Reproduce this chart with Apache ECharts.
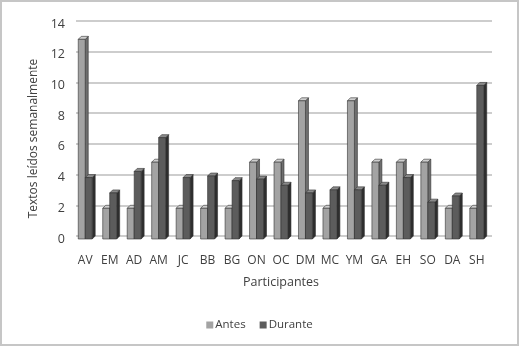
<!DOCTYPE html>
<html>
<head>
<meta charset="utf-8">
<script src="https://cdn.jsdelivr.net/npm/echarts@6/dist/echarts.min.js"></script>
<style>
html,body{margin:0;padding:0;background:#fff;}
#c{width:519px;height:346px;box-sizing:border-box;border:2px solid #c6c6c6;background:#fff;}
</style>
</head>
<body>
<div id="c"></div>
<script>
const categories = ['AV','EM','AD','AM','JC','BB','BG','ON','OC','DM','MC','YM','GA','EH','SO','DA','SH'];
const antes   = [13, 2, 2, 5, 2, 2, 2, 5, 5, 9, 2, 9, 5, 5, 5, 2, 2];
const durante = [4, 3, 4.4, 6.6, 4, 4.1, 3.8, 3.9, 3.5, 3, 3.2, 3.2, 3.5, 4, 2.4, 2.8, 10];
const yTicks = [0, 2, 4, 6, 8, 10, 12, 14];
const seriesNames = ['Antes', 'Durante'];

const palettes = [
  {front:'#a3a3a3', side:'#6e6e6e', top:'#cfcfcf'},
  {front:'#5c5c5c', side:'#2e2e2e', top:'#8a8a8a'}
];
const FONT = 'Open Sans';
const TXT = '#404040';

function makeRender(idx){
  return function(params, api){
    const cat = api.value(0), v = api.value(1);
    const top = api.coord([cat, v]);
    const base = api.coord([cat, 0]);
    const bw = api.size([1, 0])[0] * 0.285;
    const d = 3;
    const x0 = idx === 0 ? top[0] - bw : top[0];
    const p = palettes[idx];
    const stroke = {stroke:'#333', lineWidth:0.6};
    return {
      type:'group',
      children:[
        {type:'polygon', shape:{points:[[x0+bw, top[1]],[x0+bw+d, top[1]-d],[x0+bw+d, base[1]-d],[x0+bw, base[1]]]},
          style:Object.assign({fill:p.side}, stroke)},
        {type:'polygon', shape:{points:[[x0, top[1]],[x0+d, top[1]-d],[x0+bw+d, top[1]-d],[x0+bw, top[1]]]},
          style:Object.assign({fill:p.top}, stroke)},
        {type:'rect', shape:{x:x0, y:top[1], width:bw, height:base[1]-top[1]},
          style:Object.assign({fill:p.front}, stroke)}
      ]
    };
  };
}

const chart = echarts.init(document.getElementById('c'), null, {renderer:'canvas'});
chart.setOption({
  animation:false,
  backgroundColor:'#fff',
  grid:[
    {left:74, right:25, top:19, bottom:108},
    {left:71, right:28, top:22, bottom:105}
  ],
  xAxis:[
    {gridIndex:0, type:'category', data:categories, show:false},
    {gridIndex:1, type:'category', data:categories,
      axisLine:{show:false}, axisTick:{show:false},
      axisLabel:{color:TXT, fontFamily:FONT, fontSize:12, margin:16, interval:0},
      name:'Participantes', nameLocation:'middle', nameGap:37,
      nameTextStyle:{color:TXT, fontFamily:FONT, fontSize:12.5}}
  ],
  yAxis:[
    {gridIndex:0, type:'value', min:0, max:14, interval:2,
      axisLine:{show:false}, axisTick:{show:false}, axisLabel:{show:false},
      splitLine:{show:true, lineStyle:{color:'#bcbcbc', width:1.5}}},
    {gridIndex:1, type:'value', min:yTicks[0], max:yTicks[yTicks.length-1], interval:2,
      axisLine:{show:false}, axisTick:{show:false}, splitLine:{show:false},
      axisLabel:{color:TXT, fontFamily:FONT, fontSize:12.5, margin:8},
      name:'Textos leídos semanalmente', nameLocation:'middle', nameGap:27,
      nameTextStyle:{color:TXT, fontFamily:FONT, fontSize:12, padding:[0,14,0,0]}}
  ],
  legend:{
    bottom:8, left:'center', itemWidth:7, itemHeight:7, itemGap:14, icon:'rect',
    textStyle:{color:TXT, fontFamily:FONT, fontSize:11.5, padding:[0,0,0,-3]},
    data:seriesNames
  },
  series:[
    {type:'custom', name:seriesNames[0], xAxisIndex:1, yAxisIndex:1,
      itemStyle:{color:palettes[0].front},
      renderItem:makeRender(0), data:antes.map((v,i)=>[i,v])},
    {type:'custom', name:seriesNames[1], xAxisIndex:1, yAxisIndex:1,
      itemStyle:{color:palettes[1].front},
      renderItem:makeRender(1), data:durante.map((v,i)=>[i,v])}
  ]
});
</script>
</body>
</html>
